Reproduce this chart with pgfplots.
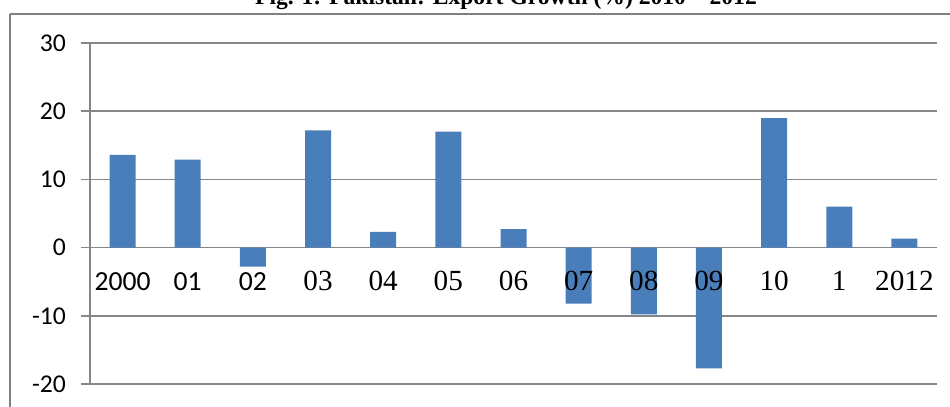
\documentclass[border=0pt]{standalone}
\usepackage{fontspec}
\usepackage{pgfplots}
\pgfplotsset{compat=1.18}
\setmainfont{Carlito}
\newfontfamily\calib{Carlito}
\newfontfamily\serifn{Liberation Serif}
\newfontfamily\titlefont{Liberation Serif}
\definecolor{barblue}{RGB}{74,126,187}
\definecolor{gridgray}{RGB}{134,134,134}
\definecolor{framegray}{RGB}{128,128,128}
\tikzset{
  year/.style={anchor=center, yshift=-16.85pt, font=\calib\fontsize{13.8}{15}\selectfont},
  years/.style={anchor=center, yshift=-16.85pt, font=\serifn\fontsize{14.6}{16}\selectfont},
}

\pgfplotstableread{
x  y
0  13.6
1  12.9
2  -2.8
3  17.2
4  2.3
5  17.0
6  2.7
7  -8.2
8  -9.8
9  -17.7
10 19.0
11 6.0
12 1.3
}\exportgrowth

\begin{document}
\begin{tikzpicture}
% title (set above the frame)
\node[anchor=base, font=\titlefont\bfseries\fontsize{11.8}{13}\selectfont]
  at (253pt,-2pt) {Fig. 1: Pakistan: Export Growth (\%) 2010 – 2012};
% frame
\draw[framegray, line width=1pt] (5pt,-7pt) -- (475pt,-7pt);
\draw[framegray, line width=0.75pt] (5pt,-7pt) -- (5pt,-203.5pt);
\begin{axis}[
  at={(45pt,-192pt)}, anchor=south west,
  scale only axis,
  width=423.5pt, height=170.5pt,
  xmin=-0.5, xmax=12.5,
  ymin=-20, ymax=30,
  axis x line*=middle,
  axis y line*=left,
  axis line style={gridgray, line width=0.75pt},
  ytick={-20,-10,0,10,20,30},
  yticklabels={-20,-10,0,10,20,30},
  ymajorgrids,
  grid style={gridgray, line width=0.75pt},
  tick align=outside,
  major tick length=4.5pt,
  ytick style={gridgray, line width=0.75pt},
  yticklabel style={font=\calib\fontsize{12.8}{14}\selectfont, anchor=east, xshift=-4pt},
  xtick={0,...,12},
  xticklabels={},
  xtick style={draw=none},
  minor xtick={0.5,1.5,...,12.5},
  minor tick length=3pt,
  minor x tick style={gridgray, line width=0.6pt},
  ybar, bar width=13pt,
  clip=false,
]
\addplot[fill=barblue, draw=none] table[x=x, y=y] {\exportgrowth};
% category labels, set over the bars
\node[year]  at (axis cs:0,0)  {2000};
\node[year]  at (axis cs:1,0)  {01};
\node[year]  at (axis cs:2,0)  {02};
\node[years] at (axis cs:3,0)  {03};
\node[years] at (axis cs:4,0)  {04};
\node[years] at (axis cs:5,0)  {05};
\node[years] at (axis cs:6,0)  {06};
\node[years] at (axis cs:7,0)  {07};
\node[years] at (axis cs:8,0)  {08};
\node[years] at (axis cs:9,0)  {09};
\node[years] at (axis cs:10,0) {10};
\node[years] at (axis cs:11,0) {1};
\node[years] at (axis cs:12,0) {2012};
\end{axis}
\pgfresetboundingbox
\useasboundingbox (0pt,0pt) rectangle (475pt,-203.5pt);
\end{tikzpicture}
\end{document}
